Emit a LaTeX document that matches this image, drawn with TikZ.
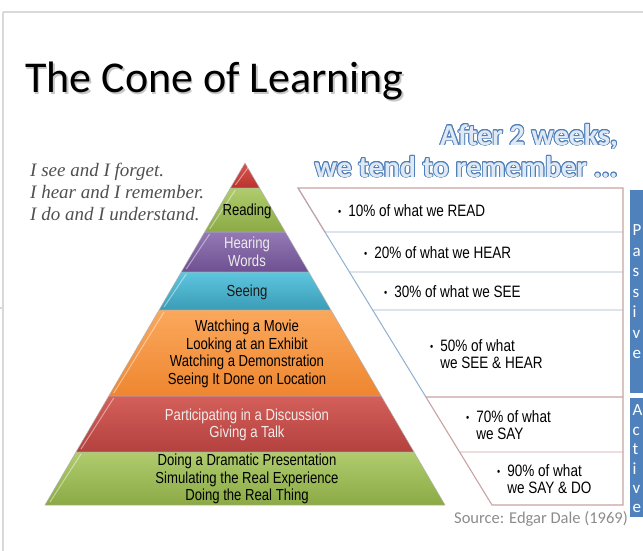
\documentclass[tikz,border=0pt]{standalone}
\usepackage{fontspec}
\setmainfont{Liberation Serif}
\newfontfamily\narrowsans[FakeStretch=0.82]{Liberation Sans}
\newfontfamily\calib{Carlito}
\usepackage[copies]{contour}
\usetikzlibrary{calc}

\definecolor{framegray}{HTML}{D9D9D9}
\definecolor{quotegray}{HTML}{505050}
\definecolor{afterfill}{HTML}{DFE9F5}
\definecolor{afterline}{HTML}{4F7FB8}
\definecolor{tipredtop}{HTML}{D9534E}
\definecolor{tipredbot}{HTML}{B8332F}
\definecolor{greentop}{HTML}{B0CC6E}
\definecolor{greenbot}{HTML}{8BAA45}
\definecolor{purpletop}{HTML}{9479B6}
\definecolor{purplebot}{HTML}{6E5090}
\definecolor{cyantop}{HTML}{5FC6DF}
\definecolor{cyanbot}{HTML}{3A9CB6}
\definecolor{orangetop}{HTML}{FBA85C}
\definecolor{orangebot}{HTML}{EE8630}
\definecolor{redtop}{HTML}{D45F5B}
\definecolor{redbot}{HTML}{B3413D}
\definecolor{panelline}{HTML}{C9A3A3}
\definecolor{sepblue}{HTML}{A3B3C8}
\definecolor{edgeblue}{HTML}{8FB0D0}
\definecolor{stripblue}{HTML}{4F81BD}
\definecolor{sourcegray}{HTML}{8C8C8C}

\newcommand{\bul}{\raisebox{1pt}{\fontsize{11}{11}\selectfont\textbullet}\hspace{7pt}}
\contourlength{0.9pt}

\begin{document}
\begin{tikzpicture}[x=1pt,y=-1pt]
  \tikzstyle{frame}=[draw=framegray,line width=2pt]
  \tikzstyle{tiertext}=[font=\narrowsans\fontsize{16}{17.5}\selectfont,align=center,inner sep=0pt]
  \tikzstyle{recall}=[font=\narrowsans\fontsize{16.5}{17.5}\selectfont,align=left,anchor=west,inner sep=0pt]
  \tikzstyle{after}=[font=\calib\bfseries\fontsize{30}{30}\selectfont,text=afterfill,anchor=base east,inner sep=0pt]
  \tikzstyle{strip}=[font=\calib\fontsize{17}{20.5}\selectfont,text=white,align=left,anchor=west,inner sep=0pt]
  \useasboundingbox (0,0) rectangle (643,550);
  \clip (0,0) rectangle (643,550);

  % slide frame
  \draw [frame] (3,12) -- (645,12);
  \draw [frame] (3,12) -- (3,552);
  \draw [frame] (0,308) -- (3,308);

  % title
  \node (titleshadow) [anchor=base west,inner sep=0pt,text=black!22,font=\calib\fontsize{44}{44}\selectfont] at (26.5,94) {The Cone of Learning};
  \node (title) [anchor=base west,inner sep=0pt,font=\calib\fontsize{44}{44}\selectfont] at (25,92) {The Cone of Learning};

  \node (after1) [after] at (618,145) {\contour{afterline}{After 2 weeks,}};
  \node (after2) [after] at (618,177) {\contour{afterline}{we tend to remember ...}};

  \node (quote) [anchor=west,inner sep=0pt,align=left,text=quotegray,font=\itshape\fontsize{19}{22}\selectfont] at (30,192)
    {I see and I forget.\\I hear and I remember.\\I do and I understand.};

  % the cone
  \coordinate (apex) at (245,163);
  \coordinate (bl) at (45,505);
  \coordinate (br) at (445,505);
  \foreach \ya/\yb/\ctop/\cbot in {163/188/tipredtop/tipredbot, 188/232/greentop/greenbot,
      232/272/purpletop/purplebot, 272/310/cyantop/cyanbot, 310/396/orangetop/orangebot,
      396/452/redtop/redbot, 452/505/greentop/greenbot}
  {
    \shade [top color=\ctop,bottom color=\cbot,draw=black!30,line width=0.5pt]
      ($(apex)!{(\ya-163)/342}!(bl)$) -- ($(apex)!{(\yb-163)/342}!(bl)$)
      -- ($(apex)!{(\yb-163)/342}!(br)$) -- ($(apex)!{(\ya-163)/342}!(br)$) -- cycle;
    \draw [white,opacity=0.45,line width=1pt]
      ($(apex)!{(\ya-163)/342}!(bl)+(5,2)$) -- ($(apex)!{(\yb-163)/342}!(bl)+(5,-3)$);
  }

  \node (reading) [tiertext] at (247,211) {Reading};
  \node (hearing) [tiertext,text=black!8] at (247,252) {Hearing\\Words};
  \node (seeing) [tiertext,text=black!90] at (247,292) {Seeing};
  \node (watching) [tiertext] at (247,354) {Watching a Movie\\Looking at an Exhibit\\Watching a Demonstration\\Seeing It Done on Location};
  \node (talk) [tiertext,text=black!7] at (247,425) {Participating in a Discussion\\Giving a Talk};
  \node (doing) [tiertext] at (247,479) {Doing a Dramatic Presentation\\Simulating the Real Experience\\Doing the Real Thing};

  % what we remember
  \coordinate (pt) at (298,188);
  \coordinate (pb) at (492,505);
  \fill [white] (pt) -- (623,188) -- (623,505) -- (pb) -- cycle;
  \foreach \y in {232,272,310}
    \draw [sepblue,line width=0.8pt] ($(pt)!{(\y-188)/317}!(pb)$) -- (623,\y);
  \draw [panelline,line width=0.8pt] ($(pt)!{(452-188)/317}!(pb)$) -- (623,452);
  \draw [panelline,line width=1.1pt] ($(pt)!{(397-188)/317}!(pb)$) -- (623,397);
  \draw [edgeblue,line width=1pt] (pt) -- ($(pt)!{(397-188)/317}!(pb)$);
  \draw [panelline,line width=1.1pt] ($(pt)!{(397-188)/317}!(pb)$) -- (pb) -- (623,505) -- (623,188) -- (pt) -- ($(pt)!{(232-188)/317}!(pb)$);

  \node (ten) [recall] at (338,211) {\bul 10\% of what we READ};
  \node (twenty) [recall] at (364,253) {\bul 20\% of what we HEAR};
  \node (thirty) [recall] at (384,292) {\bul 30\% of what we SEE};
  \node (fifty) [recall] at (430,354) {\bul 50\% of what\\\hphantom{\bul}we SEE \& HEAR};
  \node (seventy) [recall] at (466,425) {\bul 70\% of what\\\hphantom{\bul}we SAY};
  \node (ninety) [recall] at (497,479) {\bul 90\% of what\\\hphantom{\bul}we SAY \& DO};

  \node (source) [anchor=base east,inner sep=0pt,text=sourcegray,font=\calib\fontsize{16.5}{17}\selectfont] at (628,523) {Source: Edgar Dale (1969)};

  % passive / active strips
  \fill [stripblue] (630,190) rectangle (650,393);
  \fill [stripblue] (630,398) rectangle (650,517);
  \node (passive) [strip] at (632.5,292) {P\\a\\s\\s\\i\\v\\e};
  \node (active) [strip,font=\calib\fontsize{17}{19.4}\selectfont] at (632.5,459) {A\\c\\t\\i\\v\\e};
\end{tikzpicture}
\end{document}
